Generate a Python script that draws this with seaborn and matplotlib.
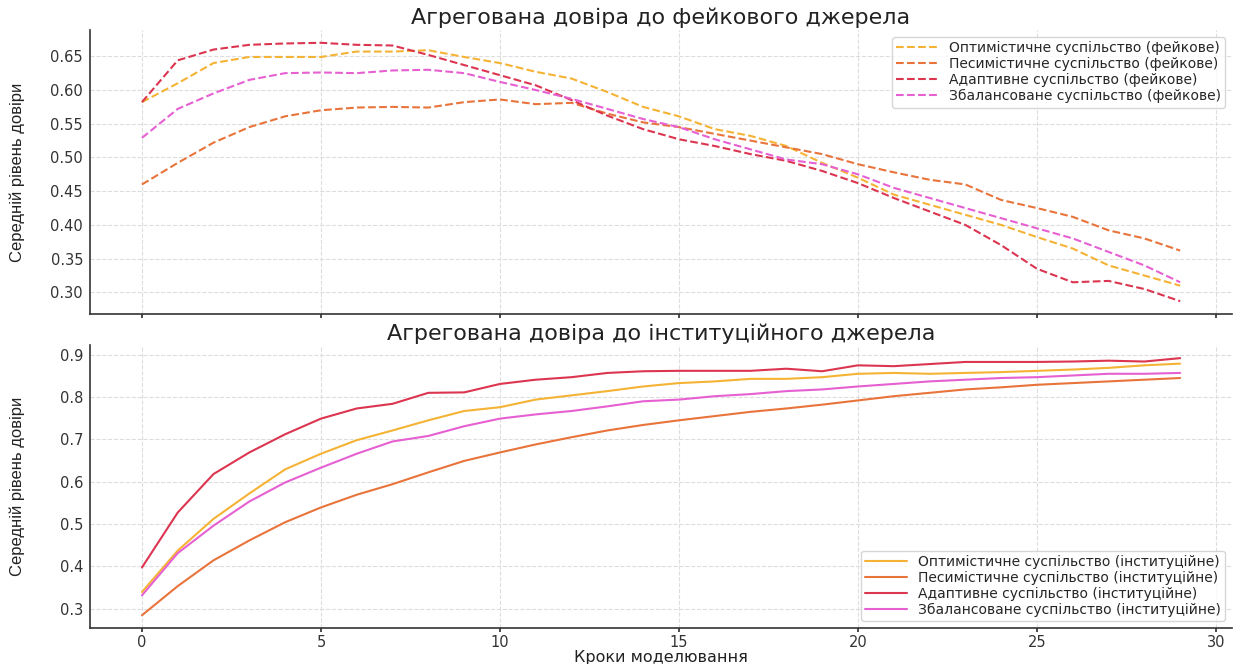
import matplotlib
matplotlib.use("Agg")
import matplotlib.pyplot as plt
import seaborn as sns
import pandas as pd

steps = list(range(30))

societies = ["Оптимістичне", "Песимістичне", "Адаптивне", "Збалансоване"]
colors = ["#F5B335", "#E8743B", "#DC3550", "#E660D2"]

fake_opt = [0.582, 0.610, 0.640, 0.649, 0.649, 0.649, 0.657, 0.657, 0.659, 0.649,
            0.640, 0.627, 0.617, 0.597, 0.575, 0.561, 0.542, 0.532, 0.517, 0.492,
            0.470, 0.445, 0.430, 0.415, 0.400, 0.382, 0.365, 0.340, 0.325, 0.310]
fake_pes = [0.460, 0.492, 0.522, 0.545, 0.561, 0.570, 0.574, 0.575, 0.574, 0.582,
            0.586, 0.579, 0.581, 0.565, 0.552, 0.545, 0.535, 0.525, 0.515, 0.505,
            0.490, 0.478, 0.467, 0.460, 0.437, 0.425, 0.412, 0.392, 0.380, 0.362]
fake_ada = [0.582, 0.644, 0.660, 0.667, 0.669, 0.670, 0.667, 0.666, 0.652, 0.637,
            0.622, 0.607, 0.585, 0.562, 0.542, 0.527, 0.517, 0.505, 0.495, 0.480,
            0.462, 0.440, 0.420, 0.400, 0.370, 0.335, 0.315, 0.317, 0.305, 0.287]
fake_bal = [0.529, 0.572, 0.595, 0.615, 0.625, 0.626, 0.625, 0.629, 0.630, 0.625,
            0.612, 0.600, 0.587, 0.572, 0.557, 0.545, 0.527, 0.512, 0.497, 0.490,
            0.475, 0.455, 0.440, 0.425, 0.410, 0.395, 0.380, 0.360, 0.340, 0.315]

inst_opt = [0.339, 0.437, 0.512, 0.572, 0.629, 0.666, 0.698, 0.721, 0.745, 0.767,
            0.776, 0.794, 0.804, 0.814, 0.825, 0.833, 0.837, 0.843, 0.843, 0.847,
            0.855, 0.857, 0.855, 0.857, 0.859, 0.862, 0.865, 0.869, 0.875, 0.879]
inst_pes = [0.284, 0.353, 0.414, 0.461, 0.504, 0.539, 0.569, 0.594, 0.622, 0.649,
            0.669, 0.688, 0.705, 0.721, 0.734, 0.745, 0.755, 0.765, 0.773, 0.782,
            0.792, 0.802, 0.810, 0.818, 0.823, 0.829, 0.833, 0.837, 0.841, 0.845]
inst_ada = [0.397, 0.527, 0.618, 0.669, 0.712, 0.749, 0.773, 0.784, 0.810, 0.811,
            0.831, 0.841, 0.847, 0.857, 0.861, 0.862, 0.862, 0.862, 0.867, 0.861,
            0.875, 0.873, 0.878, 0.883, 0.883, 0.883, 0.884, 0.886, 0.884, 0.892]
inst_bal = [0.331, 0.431, 0.496, 0.553, 0.598, 0.633, 0.666, 0.695, 0.708, 0.731,
            0.749, 0.759, 0.767, 0.778, 0.790, 0.794, 0.802, 0.807, 0.814, 0.818,
            0.825, 0.831, 0.837, 0.841, 0.845, 0.847, 0.851, 0.855, 0.855, 0.857]

fake_series = [fake_opt, fake_pes, fake_ada, fake_bal]
inst_series = [inst_opt, inst_pes, inst_ada, inst_bal]

sns.set_theme(style="whitegrid")
plt.rcParams["font.family"] = ["DejaVu Sans"]

fig = plt.figure(figsize=(12.4, 6.64), dpi=100)
ax1 = fig.add_axes([0.0726, 0.527, 0.921, 0.428])
ax2 = fig.add_axes([0.0726, 0.054, 0.921, 0.426], sharex=ax1)

for name, vals, c in zip(societies, fake_series, colors):
    sns.lineplot(x=steps, y=vals, ax=ax1, color=c, linestyle="--", linewidth=1.5,
                 label=f"{name} суспільство (фейкове)")
for name, vals, c in zip(societies, inst_series, colors):
    sns.lineplot(x=steps, y=vals, ax=ax2, color=c, linewidth=1.5,
                 label=f"{name} суспільство (інституційне)")

ax1.set_title("Агрегована довіра до фейкового джерела", fontsize=16, pad=4, color="#222222")
ax2.set_title("Агрегована довіра до інституційного джерела", fontsize=16, pad=4, color="#222222")
ax2.set_xlabel("Кроки моделювання", fontsize=11.5, labelpad=0, color="#222222")
for ax in (ax1, ax2):
    ax.set_ylabel("Середній рівень довіри", fontsize=12,
                  family=["Liberation Sans", "DejaVu Sans"], color="#222222")
    ax.grid(True, color="#dddddd", linestyle="--", linewidth=0.8)
    for s in ("top", "right"):
        ax.spines[s].set_visible(False)
    for s in ("left", "bottom"):
        ax.spines[s].set_color("#333333")
        ax.spines[s].set_linewidth(1.2)
    ax.tick_params(axis="both", labelsize=10.5, colors="#333333", length=3, pad=2,
                   bottom=True, left=False)
ax1.set_xlabel("")
ax1.tick_params(axis="x", labelbottom=False)
ax2.set_xticks([0, 5, 10, 15, 20, 25, 30])
ax1.set_yticks([0.30, 0.35, 0.40, 0.45, 0.50, 0.55, 0.60, 0.65])
ax2.set_yticks([0.3, 0.4, 0.5, 0.6, 0.7, 0.8, 0.9])

ax1.legend(loc="upper right", fontsize=10, frameon=True, edgecolor="#cccccc",
           borderpad=0.3, labelspacing=0.15, handlelength=3.0)
ax2.legend(loc="lower right", fontsize=10, frameon=True, edgecolor="#cccccc",
           borderpad=0.3, labelspacing=0.15, handlelength=3.0)

ax1.yaxis.set_label_coords(-0.057, 0.5)
ax2.yaxis.set_label_coords(-0.057, 0.5)

fig.savefig("out.png", dpi=100)
